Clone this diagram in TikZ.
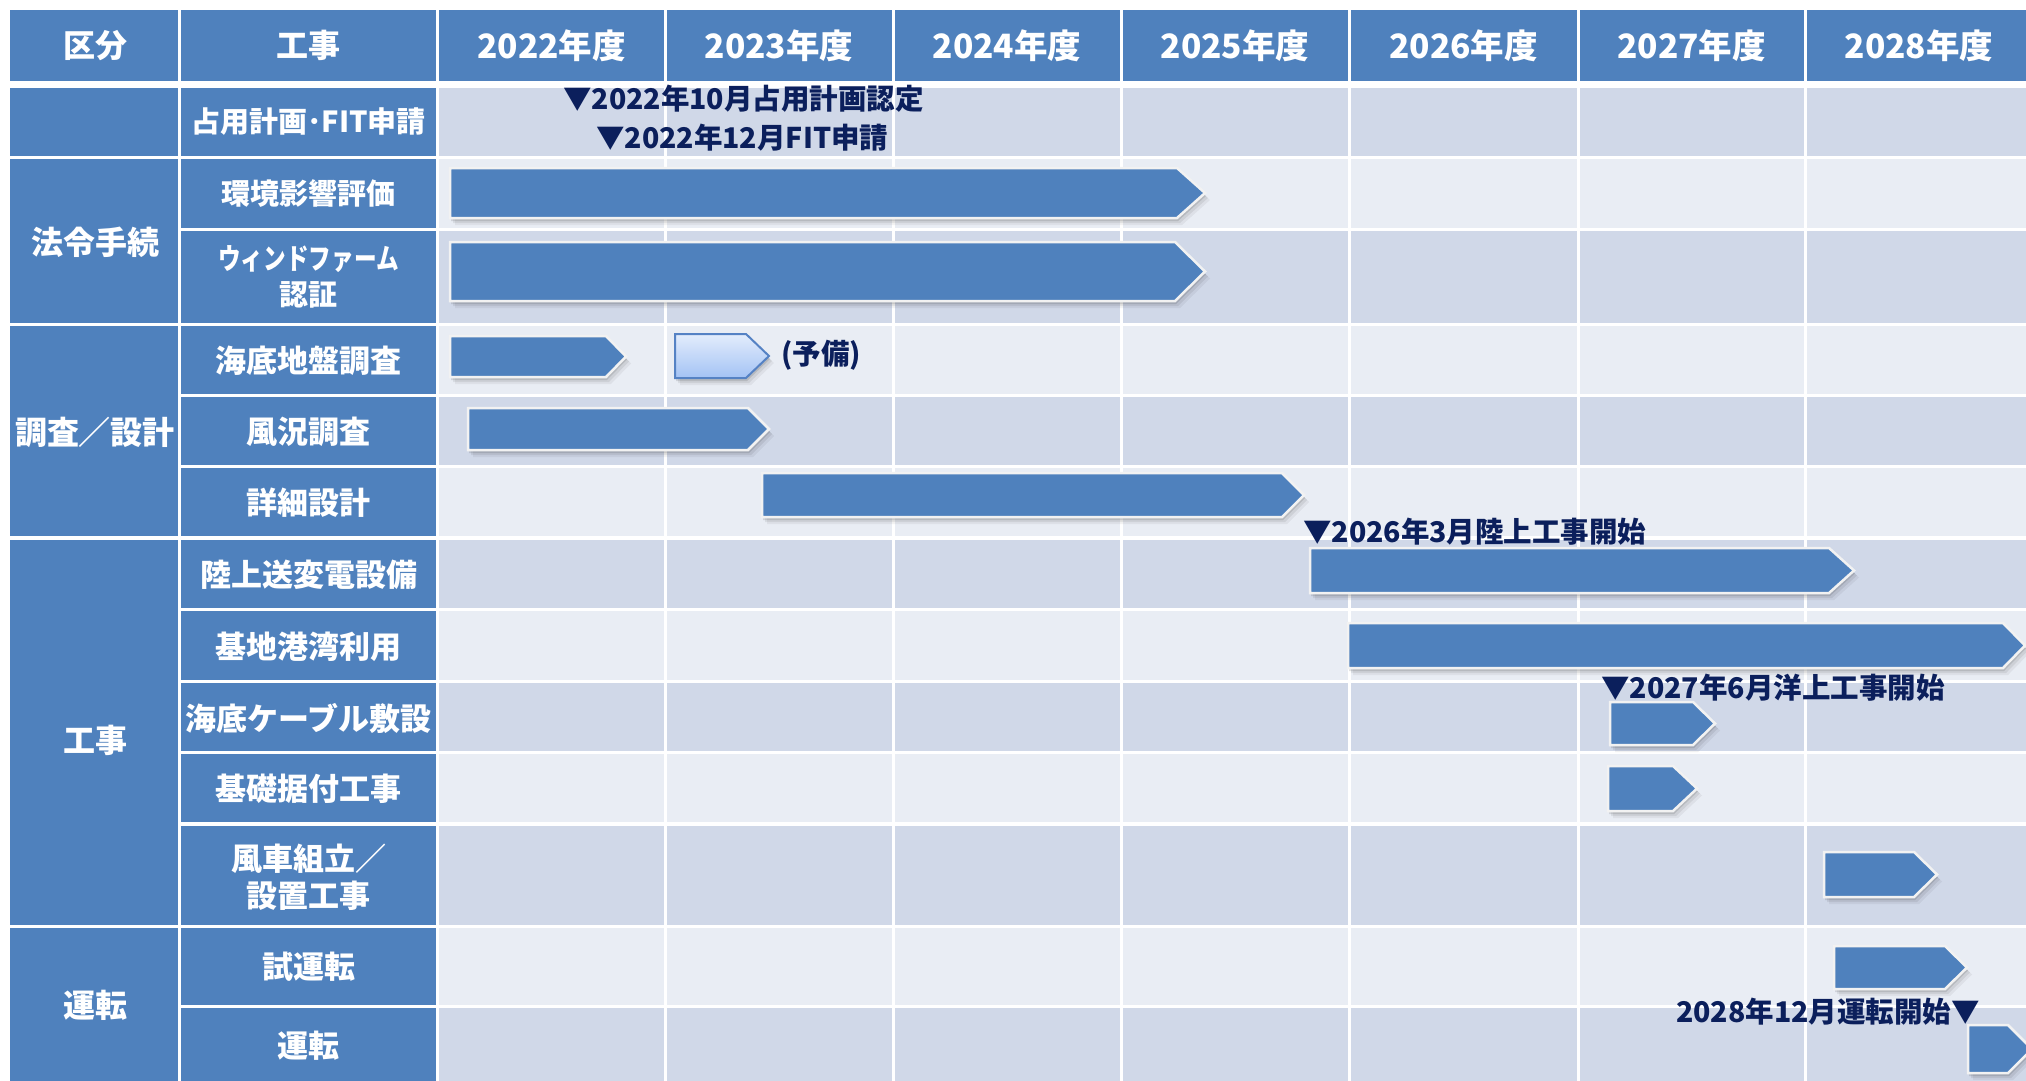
\documentclass[tikz,border=0pt]{standalone}
\usepackage{fontspec}
\setmainfont{Noto Sans CJK JP}
\definecolor{hdr}{HTML}{4F81BD}
\definecolor{rowdark}{HTML}{D0D8E8}
\definecolor{rowlight}{HTML}{E9EDF4}
\definecolor{navy}{HTML}{0B1F5C}
\definecolor{barline}{HTML}{F2F2F2}
\definecolor{restop}{HTML}{E3EDFC}
\definecolor{resbot}{HTML}{A3C2F4}
\definecolor{resline}{HTML}{5582C4}
\newcommand\gbar[6]{%
  \foreach \s/\o in {7/0.05,5/0.07,3/0.11}{%
    \fill[black,opacity=\o] (#2+\s-2,#5+\s) -- (#3+\s-2,#5+\s) -- (#4+\s-2,{(#5+#6)/2+\s}) -- (#3+\s-2,#6+\s) -- (#2+\s-2,#6+\s) -- cycle;}
  \path[#1] (#2,#5) -- (#3,#5) -- (#4,{(#5+#6)/2}) -- (#3,#6) -- (#2,#6) -- cycle;}
\begin{document}
\begin{tikzpicture}[x=1pt,y=-1pt,
  lbl/.style={text=white,font=\bfseries\fontsize{31}{37}\selectfont,align=center,inner sep=0pt},
  lbls/.style={text=white,font=\bfseries\fontsize{29}{36}\selectfont,align=center,inner sep=0pt},
  grp/.style={text=white,font=\bfseries\fontsize{32}{38}\selectfont,align=center,inner sep=0pt},
  hd/.style={text=white,font=\bfseries\fontsize{32}{38}\selectfont,inner sep=0pt},
  hdy/.style={text=white,font=\bfseries\fontsize{33.5}{38}\selectfont,inner sep=0pt},
  ms/.style={text=navy,font=\bfseries\fontsize{28.5}{32}\selectfont,inner sep=0pt},
  barst/.style={fill=hdr,draw=barline,line width=2.5pt,line join=miter},
  resst/.style={top color=restop,bottom color=resbot,draw=resline,line width=2pt,line join=miter}]
\useasboundingbox (0,0) rectangle (2026,1081);
\fill[white] (0,0) rectangle (2026,1081);
% header band
\fill[hdr] (10,10) rectangle (2026,81);
% rows
\foreach \t/\b/\c in {88/156/rowdark,159/228/rowlight,231/323/rowdark,326/394/rowlight,
  397/465/rowdark,468/536/rowlight,540/608/rowdark,611/680/rowlight,683/751/rowdark,
  754/822/rowlight,826/925/rowdark,928/1005/rowlight,1008/1081/rowdark}{%
  \fill[\c] (437,\t) rectangle (2026,\b);
  \fill[hdr] (180,\t) rectangle (437,\b);}
% group cells
\foreach \t/\b in {88/156,159/323,326/536,540/925,928/1081}{%
  \fill[hdr] (10,\t) rectangle (180,\b);}
% vertical separators
\foreach \x in {179.5,437.5,665,893,1121,1349,1578,1805}{%
  \draw[white,line width=3pt] (\x,10) -- (\x,1081);}
% header texts
\node[hd] (h0) at (95,45.5) {区分};
\node[hd] (h1) at (308.5,45.5) {工事};
\node[hdy] (y22) at (551.5,45.5) {2022年度};
\node[hdy] (y23) at (779,45.5) {2023年度};
\node[hdy] (y24) at (1007,45.5) {2024年度};
\node[hdy] (y25) at (1235,45.5) {2025年度};
\node[hdy] (y26) at (1463.5,45.5) {2026年度};
\node[hdy] (y27) at (1691.5,45.5) {2027年度};
\node[hdy] (y28) at (1919,45.5) {2028年度};
% group labels
\node[grp] (g1) at (95,242) {法令手続};
\node[grp] (g2) at (95,432) {調査／設計};
\node[grp] (g3) at (95,740) {工事};
\node[grp] (g4) at (95,1005) {運転};
% row labels
\node[lbls] (r1) at (308.5,122) {占用計画･FIT申請};
\node[lbls] (r2) at (308.5,193.5) {環境影響評価};
\node[lbls] (r3) at (308.5,277) {\scalebox{0.78}[1]{ウィンドファーム}\\認証};
\node[lbl] (r4) at (308.5,361) {海底地盤調査};
\node[lbl] (r5) at (308.5,432) {風況調査};
\node[lbl] (r6) at (308.5,503) {詳細設計};
\node[lbl] (r7) at (308.5,575) {陸上送変電設備};
\node[lbl] (r8) at (308.5,646.5) {基地港湾利用};
\node[lbl] (r9) at (308.5,718) {海底ケーブル敷設};
\node[lbl] (r10) at (308.5,789) {基礎据付工事};
\node[lbl] (r11) at (308.5,877) {風車組立／\\設置工事};
\node[lbl] (r12) at (308.5,967) {試運転};
\node[lbl] (r13) at (308.5,1046) {運転};
% bars
\gbar{barst}{450}{1177}{1205}{168}{218}
\gbar{barst}{450}{1175}{1205}{242}{301}
\gbar{barst}{450}{606}{626}{336}{377}
\gbar{resst}{675}{746}{769}{334}{378}
\gbar{barst}{468}{748}{769}{408}{450}
\gbar{barst}{762}{1282}{1304}{473}{517}
\gbar{barst}{1310}{1829}{1854}{548}{593}
\gbar{barst}{1348}{2003}{2025}{623}{668}
\gbar{barst}{1610}{1693}{1715}{702}{745}
\gbar{barst}{1608}{1673}{1697}{766}{811}
\gbar{barst}{1824}{1914}{1937}{852}{897}
\gbar{barst}{1834}{1945}{1967}{946}{989}
\gbar{barst}{1968}{2008}{2032}{1025}{1073}
% milestones
\node[ms,anchor=west] (m1) at (563,99) {▼2022年10月占用計画認定};
\node[ms,anchor=west] (m2) at (596,138) {▼2022年12月FIT申請};
\node[ms,anchor=west] (m3) at (781,355) {(予備)};
\node[ms,anchor=west] (m4) at (1303,532) {▼2026年3月陸上工事開始};
\node[ms,anchor=west] (m5) at (1601,688) {▼2027年6月洋上工事開始};
\node[ms,anchor=east] (m6) at (1980,1012) {2028年12月運転開始▼};
\end{tikzpicture}
\end{document}
